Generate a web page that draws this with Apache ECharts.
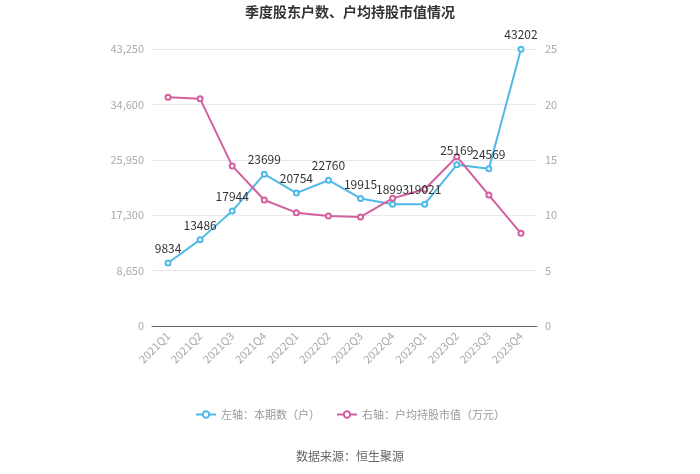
<!DOCTYPE html>
<html><head><meta charset="utf-8">
<script src="https://cdn.jsdelivr.net/npm/echarts@6/dist/echarts.min.js"></script>
<style>html,body{margin:0;padding:0;background:#fff}#c{width:700px;height:474px}</style>
</head><body><div id="c"></div>
<script>
var categories = ['2021Q1','2021Q2','2021Q3','2021Q4','2022Q1','2022Q2','2022Q3','2022Q4','2023Q1','2023Q2','2023Q3','2023Q4'];
var holders = [9834,13486,17944,23699,20754,22760,19915,18993,19021,25169,24569,43202];
var avgValue = [20.65,20.5,14.45,11.37,10.23,9.93,9.84,11.52,12.34,15.28,11.82,8.36];
var leftTicks = {min:0, max:43250, interval:8650};
var rightTicks = {min:0, max:25, interval:5};

var chart = echarts.init(document.getElementById('c'));
var font = 'Microsoft YaHei, "Noto Sans CJK SC", sans-serif';
chart.setOption({
  animation:false,
  textStyle:{fontFamily:font},
  title:{text:'季度股东户数、户均持股市值情况',left:'center',top:0,textStyle:{fontSize:14,fontWeight:'bold',color:'#333',fontFamily:font}},
  grid:{left:152,right:163,top:49,bottom:148},
  legend:{bottom:49,itemGap:16,itemWidth:20,itemHeight:8,textStyle:{color:'#999',fontSize:11},
    data:['左轴：本期数（户）','右轴：户均持股市值（万元）']},
  graphic:[{type:'text',left:'center',top:450,style:{text:'数据来源：恒生聚源',fill:'#666',font:'12px '+font}}],
  xAxis:{type:'category',data:categories,boundaryGap:true,
    axisLine:{lineStyle:{color:'#666'}},axisTick:{alignWithLabel:true,lineStyle:{color:'#666'}},
    axisLabel:{rotate:45,color:'#aaa',fontSize:11,interval:0}},
  yAxis:[
    {type:'value',min:leftTicks.min,max:leftTicks.max,interval:leftTicks.interval,
     axisLabel:{color:'#aaa',fontSize:11,formatter:function(v){return v.toLocaleString('en-US');}},
     splitLine:{lineStyle:{color:'#e8e8f0'}},axisLine:{show:false},axisTick:{show:false}},
    {type:'value',min:rightTicks.min,max:rightTicks.max,interval:rightTicks.interval,
     axisLabel:{color:'#aaa',fontSize:11},splitLine:{show:false},axisLine:{show:false},axisTick:{show:false}}
  ],
  series:[
    {name:'左轴：本期数（户）',type:'line',yAxisIndex:0,data:holders,symbol:'emptyCircle',symbolSize:5,
     itemStyle:{color:'#4fb9e8'},lineStyle:{width:2,color:'#4fb9e8'},
     label:{show:true,position:'top',color:'#333',fontSize:12}},
    {name:'右轴：户均持股市值（万元）',type:'line',yAxisIndex:1,data:avgValue,symbol:'emptyCircle',symbolSize:5,
     itemStyle:{color:'#d45f9e'},lineStyle:{width:2,color:'#d45f9e'}}
  ]
});
</script></body></html>
